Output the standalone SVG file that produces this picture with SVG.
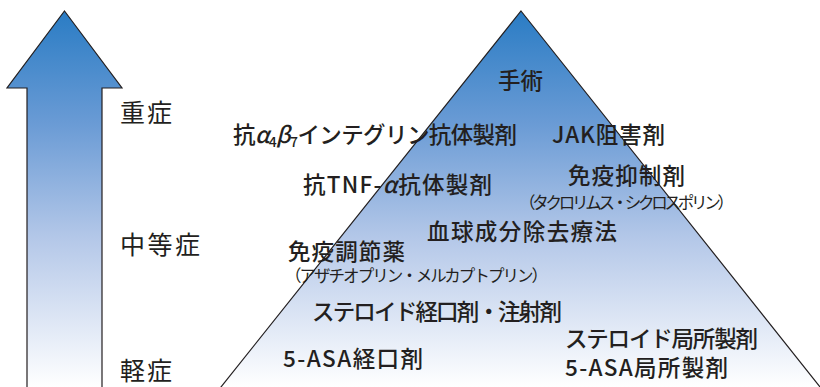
<svg xmlns="http://www.w3.org/2000/svg" width="820" height="387" viewBox="0 0 820 387">
<defs>
<linearGradient id="grad" gradientUnits="userSpaceOnUse" x1="0" y1="11" x2="0" y2="387">
<stop offset="0" stop-color="#2a7cc4"/>
<stop offset="0.3" stop-color="#6a9bd5"/>
<stop offset="0.6" stop-color="#b3c7e8"/>
<stop offset="1" stop-color="#ffffff"/>
</linearGradient>
<style>
.shape{fill:url(#grad);stroke:#231f20;stroke-width:1.2;}
.lvl{font-family:"Noto Sans CJK JP","Noto Sans",sans-serif;font-size:25px;fill:#231f20;}
.t{font-family:"Noto Sans CJK JP","Noto Sans",sans-serif;font-size:22.5px;font-weight:500;fill:#231f20;}
.s{font-family:"Noto Sans CJK JP","Noto Sans",sans-serif;font-size:16.5px;fill:#231f20;}
</style>
</defs>
<g id="arrow">
<polygon class="shape" points="64.5,11 122,88 102,88 102,395 27,395 27,88 7,88"/>
</g>
<g id="pyramid">
<polygon class="shape" points="521,11 828,397 213,397"/>
</g>
<g id="levels">
<text id="severe" class="lvl" x="120" y="122" textLength="52">重症</text>
<text id="moderate" class="lvl" x="120" y="254" textLength="80">中等症</text>
<text id="mild" class="lvl" x="120" y="380" textLength="52">軽症</text>
</g>
<g id="connectors"></g>
<g id="surgery"><text class="t" x="498" y="89" textLength="45">手術</text></g>
<g id="anti-a4b7"><text class="t" x="233" y="143" textLength="284">抗<tspan font-style="italic">α</tspan><tspan font-size="14" dy="4">4</tspan><tspan font-style="italic" dy="-4">β</tspan><tspan font-size="14" dy="4">7</tspan><tspan dy="-4">インテグリン抗体製剤</tspan></text></g>
<g id="jak"><text class="t" x="552" y="143" textLength="113">JAK阻害剤</text></g>
<g id="anti-tnf"><text class="t" x="303" y="193" textLength="189">抗TNF-<tspan font-style="italic">α</tspan>抗体製剤</text></g>
<g id="immunosuppressant"><text class="t" x="568" y="184" textLength="117">免疫抑制剤</text>
<text class="s" x="519" y="209" textLength="215">（タクロリムス・シクロスポリン）</text></g>
<g id="apheresis"><text class="t" x="427" y="240" textLength="190">血球成分除去療法</text></g>
<g id="immunomodulator"><text class="t" x="288" y="260" textLength="117">免疫調節薬</text>
<text class="s" x="285" y="282" textLength="263">（アザチオプリン・メルカプトプリン）</text></g>
<g id="steroid-oral"><text class="t" x="312" y="320" textLength="250">ステロイド経口剤・注射剤</text></g>
<g id="asa-oral"><text class="t" x="283" y="367" textLength="140">5-ASA経口剤</text></g>
<g id="steroid-local"><text class="t" x="565" y="347" textLength="193">ステロイド局所製剤</text></g>
<g id="asa-local"><text class="t" x="565" y="376" textLength="163">5-ASA局所製剤</text></g>
</svg>
